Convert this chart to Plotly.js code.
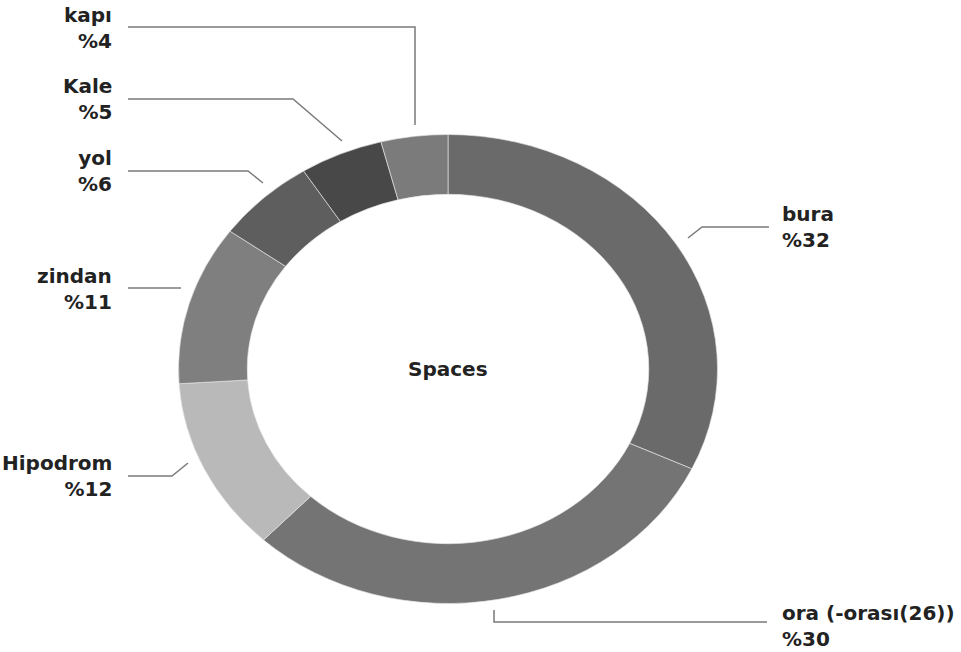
<!DOCTYPE html>
<html>
<head>
<meta charset="utf-8">
<script src="https://cdn.plot.ly/plotly-3.0.1.min.js"></script>
<style>html,body{margin:0;padding:0;background:#fff;}#chart{width:961px;height:652px;}</style>
</head>
<body>
<div id="chart"></div>
<script>
// ---- data ----
const labels = ["bura", "ora (-orası(26))", "Hipodrom", "zindan", "yol", "Kale", "kapı"];
const values = [32, 30, 12, 11, 6, 5, 4];
const colors = ["#6a6a6a", "#747474", "#b9b9b9", "#7f7f7f", "#5e5e5e", "#484848", "#7b7b7b"];
const centerTitle = "Spaces";

// ---- layout helpers ----
const W = 961, H = 652;
const px = x => x / W;
const py = y => 1 - y / H;
const cx = 448, cy = 369, ry = 234.5, rx = 269.5;

// label placement (pixel anchor, side) in same order as labels
const labelPos = [
  {x: 780, y: 227, side: "left"},
  {x: 780, y: 626, side: "left"},
  {x: 114, y: 476, side: "right"},
  {x: 114, y: 289, side: "right"},
  {x: 114, y: 171, side: "right"},
  {x: 114, y: 99,  side: "right"},
  {x: 114, y: 28,  side: "right"}
];
// leader lines (pixel polylines)
const leaders = [
  [[688, 238], [702, 227], [769, 227]],
  [[494, 610], [494, 622], [767, 622]],
  [[128, 476], [172, 476], [188, 463]],
  [[128, 288], [181, 288]],
  [[128, 171], [248, 171], [263, 183]],
  [[128, 99],  [293, 99],  [342, 141]],
  [[128, 27],  [415, 27],  [415, 125]]
];

const font = {family: "DejaVu Sans, Liberation Sans, sans-serif", size: 20, color: "#222222", weight: 700};

const annotations = labels.map((lab, i) => ({
  xref: "paper", yref: "paper",
  x: px(labelPos[i].x), y: py(labelPos[i].y),
  xanchor: labelPos[i].side, yanchor: "middle",
  align: labelPos[i].side === "right" ? "right" : "left",
  text: "<b>" + lab + "<br>%" + values[i] + "</b>",
  showarrow: false, font: font
}));
annotations.push({
  xref: "paper", yref: "paper", x: px(cx), y: py(cy),
  xanchor: "center", yanchor: "middle",
  text: "<b>" + centerTitle + "</b>", showarrow: false, font: font
});

const shapes = leaders.map(pts => ({
  type: "path", xref: "paper", yref: "paper",
  path: pts.map((p, k) => (k ? "L" : "M") + px(p[0]) + "," + py(p[1])).join(" "),
  line: {color: "#7a7a7a", width: 1.5}
}));

const trace = {
  type: "pie",
  labels: labels,
  values: values,
  sort: false,
  direction: "clockwise",
  rotation: 0,
  hole: 0.745,
  textinfo: "none",
  hoverinfo: "label+percent",
  marker: {colors: colors, line: {color: "#e6e6e6", width: 0.6}},
  domain: {
    x: [px(cx - rx), px(cx + rx)],
    y: [py(cy + ry), py(cy - ry)]
  },
  showlegend: false
};

const layout = {
  width: W, height: H,
  margin: {l: 0, r: 0, t: 0, b: 0},
  paper_bgcolor: "#ffffff",
  plot_bgcolor: "#ffffff",
  showlegend: false,
  annotations: annotations,
  shapes: shapes
};

Plotly.newPlot("chart", [trace], layout, {displayModeBar: false, staticPlot: true}).then(gd => {
  // stretch the ring horizontally into an ellipse, as in the reference
  const sx = rx / ry;
  const layer = gd.querySelector(".pielayer");
  if (layer) layer.setAttribute("transform", "matrix(" + sx + ",0,0,1," + ((1 - sx) * cx) + ",0)");
});
</script>
</body>
</html>
